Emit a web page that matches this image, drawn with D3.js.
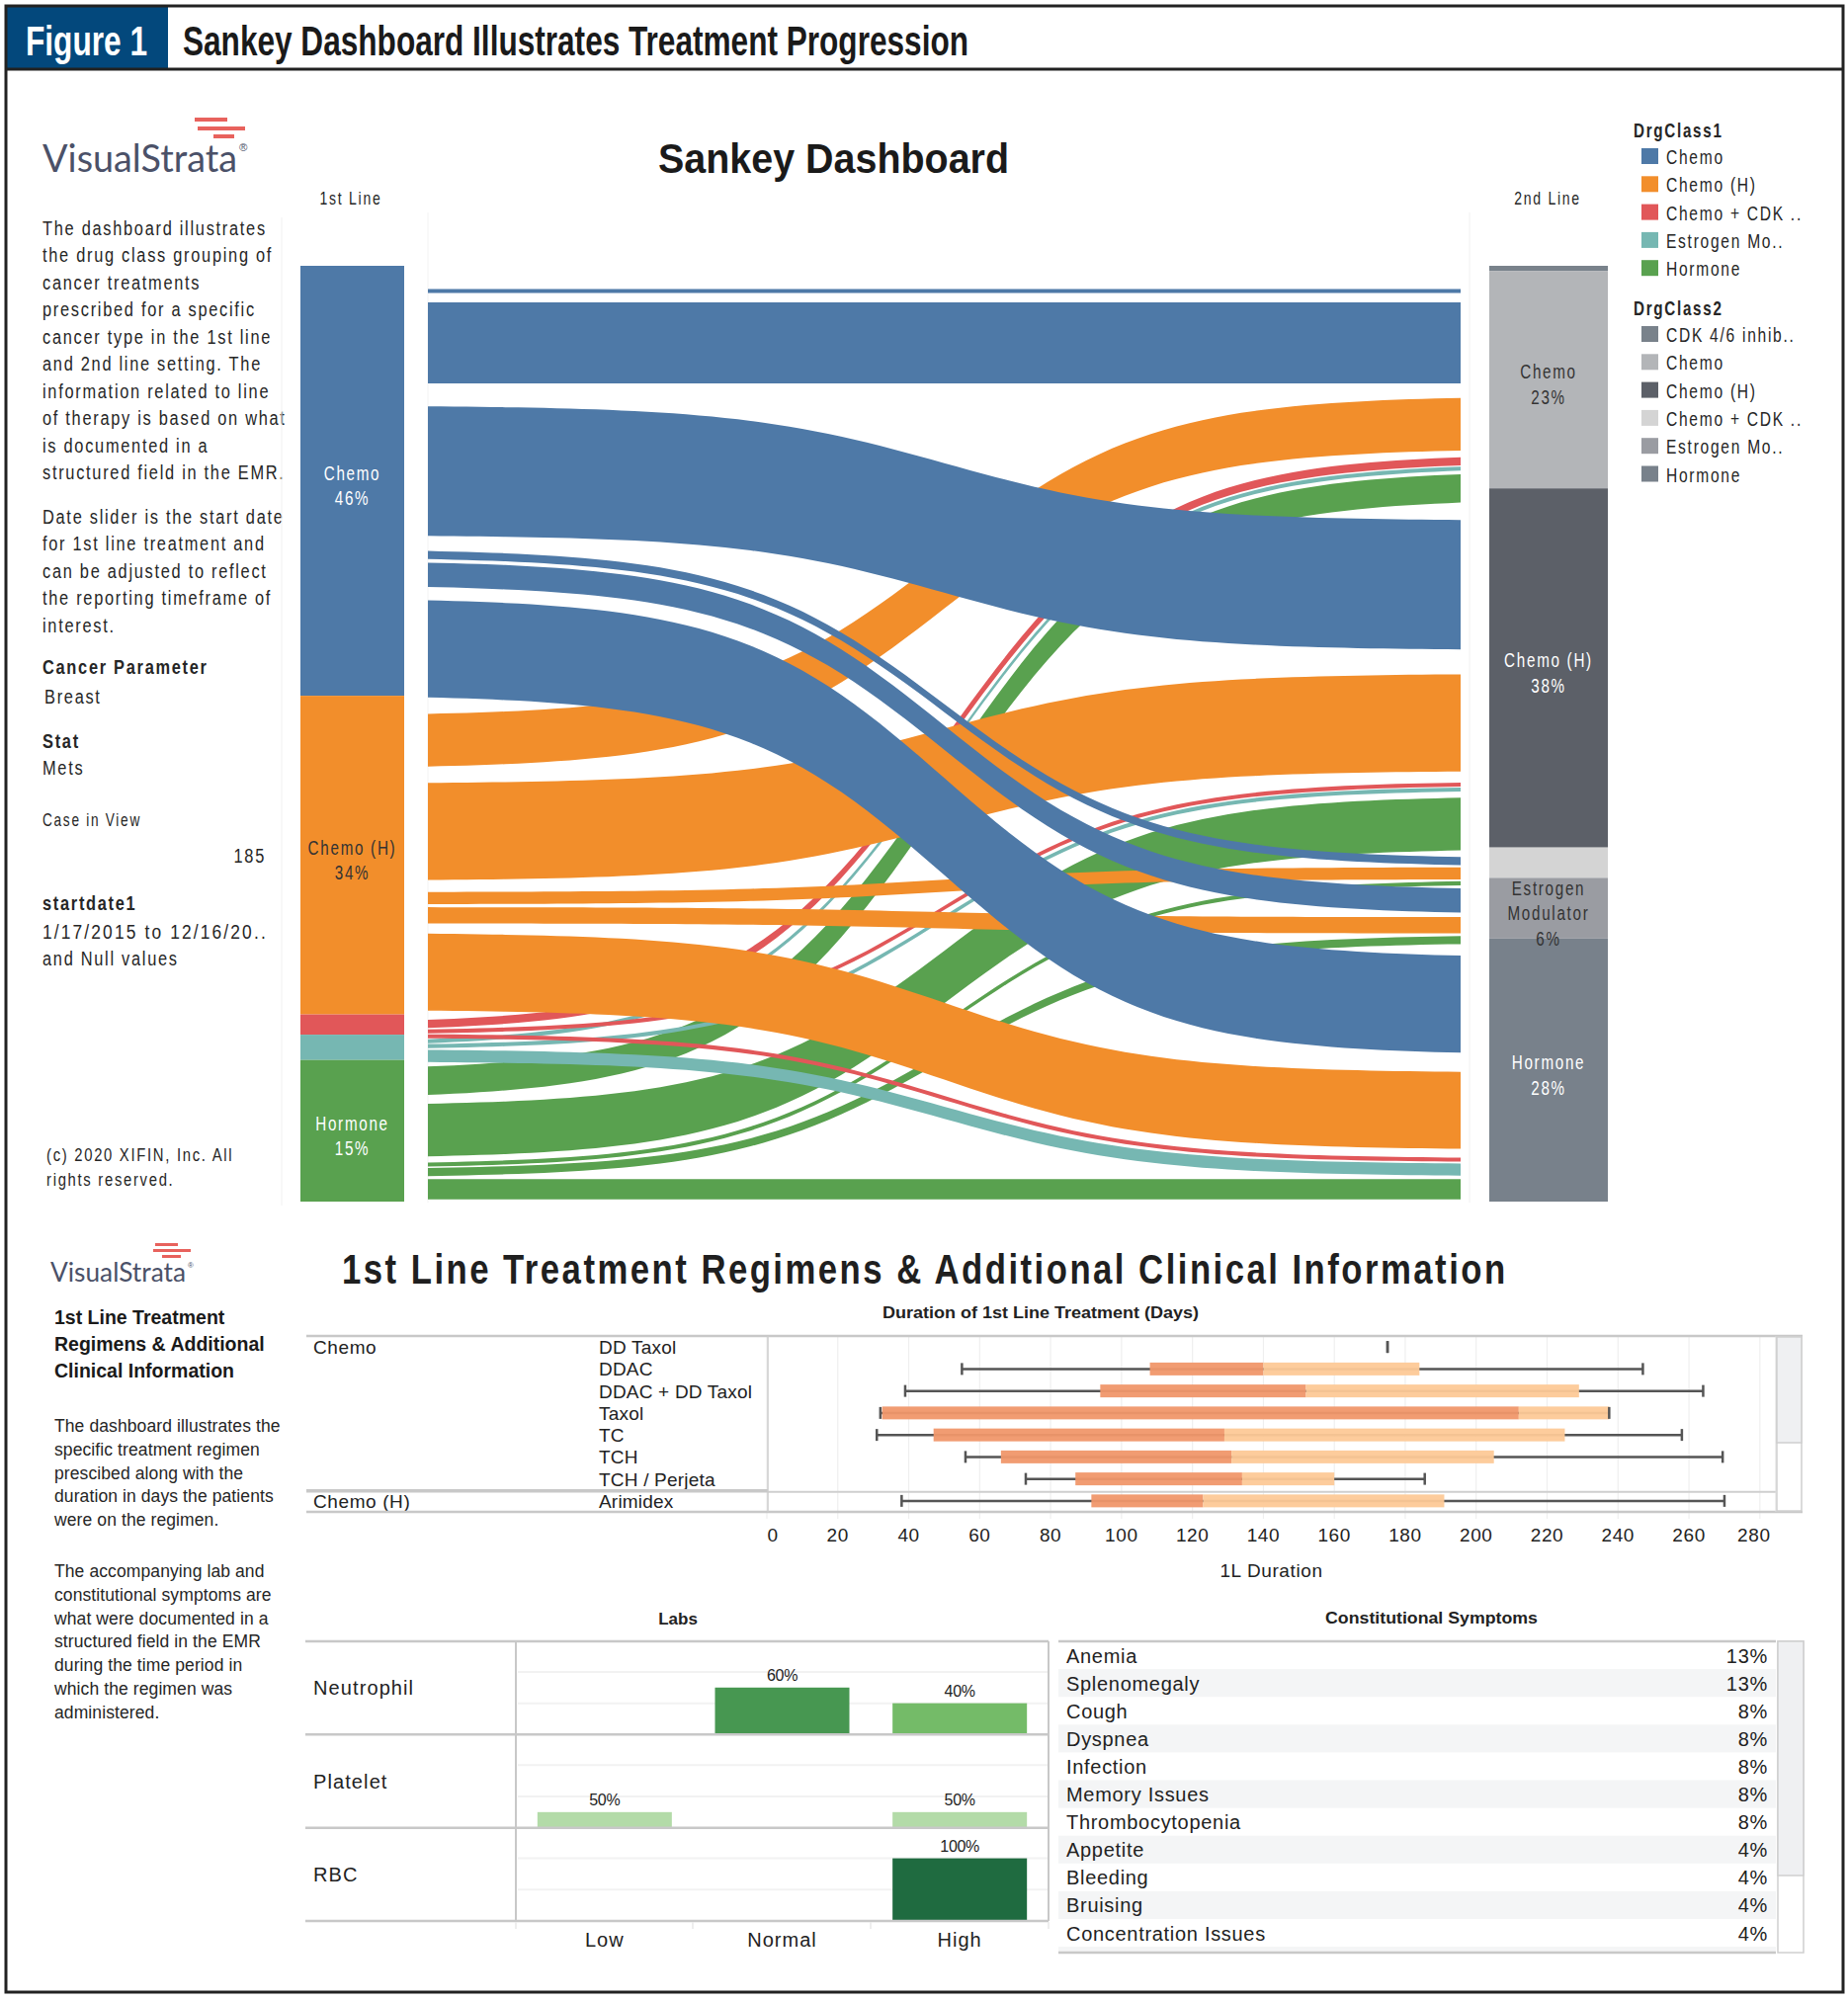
<!DOCTYPE html>
<html><head><meta charset="utf-8">
<script src="https://cdn.jsdelivr.net/npm/d3@7"></script>
<style>body{margin:0;background:#fff}svg{display:block}</style>
</head><body>
<svg id="c" width="1870" height="2026" xmlns="http://www.w3.org/2000/svg"></svg>
<script>
// ---------------- DATA ----------------
const firstLineClasses = ["Chemo", "Chemo (H)", "Chemo + CDK 4/6 inhibitor", "Estrogen Modulator", "Hormone"];
const secondLineClasses = ["CDK 4/6 inhibitor", "Chemo", "Chemo (H)", "Chemo + CDK 4/6 inhibitor", "Estrogen Modulator", "Hormone"];
// patients moving from each 1st-line class to each 2nd-line class (order of secondLineClasses)
const flowsFromChemo    = [1, 20, 32, 2, 6, 24];
const flowsFromChemoH   = [0, 13, 24, 3, 4, 19];
const flowsFromChemoCDK = [0, 2, 1, 0, 0, 1];
const flowsFromEstrogen = [0, 1, 1, 0, 0, 3];
const flowsFromHormone  = [0, 7, 13, 1, 2, 5];
const firstLineLabels  = [["Chemo"], ["Chemo (H)"], [], [], ["Hormone"]];
const secondLineLabels = [[], ["Chemo"], ["Chemo (H)"], [], ["Estrogen", "Modulator"], ["Hormone"]];
const class1Legend = ["Chemo", "Chemo (H)", "Chemo + CDK ..", "Estrogen Mo..", "Hormone"];
const class2Legend = ["CDK 4/6 inhib..", "Chemo", "Chemo (H)", "Chemo + CDK ..", "Estrogen Mo..", "Hormone"];
const class1Colors = ["#4e79a7", "#f28e2b", "#e15759", "#76b7b2", "#59a14f"];
const class2Colors = ["#79828b", "#b3b5b8", "#5c6068", "#d4d4d4", "#9a9ca2", "#78818b"];

const regimenClass = ["Chemo", "", "", "", "", "", "", "Chemo (H)"];
const regimens = ["DD Taxol", "DDAC", "DDAC + DD Taxol", "Taxol", "TC", "TCH", "TCH / Perjeta", "Arimidex"];
const durMin    = [175, 55, 39, 32, 31, 56, 73, 38];
const durQ1     = [175, 108, 94, 32.5, 47, 66, 87, 91.5];
const durMedian = [175, 140, 152, 212, 129, 131, 134, 123];
const durQ3     = [175, 184, 229, 237.5, 225, 205, 160, 191];
const durMax    = [175, 247, 264, 237.5, 258, 269.5, 185.5, 270];
const durationTicks = [0, 20, 40, 60, 80, 100, 120, 140, 160, 180, 200, 220, 240, 260, 280];

const labTests = ["Neutrophil", "Platelet", "RBC"];
const labLevels = ["Low", "Normal", "High"];
const labLow    = [0, 1, 0];
const labNormal = [3, 0, 0];
const labHigh   = [2, 1, 4];
const labCountColors = ["#b3dba8", "#74bb68", "#479751", "#1f6b40"];

const symptoms = ["Anemia", "Splenomegaly", "Cough", "Dyspnea", "Infection", "Memory Issues", "Thrombocytopenia", "Appetite", "Bleeding", "Bruising", "Concentration Issues"];
const symptomPct = [13, 13, 8, 8, 8, 8, 8, 4, 4, 4, 4];

// ---------------- HELPERS ----------------
const svg = d3.select("#c");
const FF = "'Liberation Sans', Arial, Helvetica, sans-serif";
function T(parent, x, y, s, o = {}) {
  const t = parent.append("text").text(s)
    .attr("font-family", o.ff || FF)
    .attr("font-size", o.fs || 17)
    .attr("font-weight", o.fw || 400)
    .attr("fill", o.fill || "#262626")
    .attr("text-anchor", o.anchor || "start");
  if (o.ls) t.attr("letter-spacing", o.ls);
  let sx = o.sx;
  if (o.fit) {
    t.attr("x", 0).attr("y", 0);
    const len = t.node().getComputedTextLength();
    if (len > 0) sx = o.fit / len;
  }
  if (sx) t.attr("x", 0).attr("y", 0).attr("transform", `translate(${x},${y}) scale(${sx},1)`);
  else t.attr("x", x).attr("y", y);
  if (o.tl) t.attr("textLength", o.tl).attr("lengthAdjust", "spacingAndGlyphs");
  return t;
}
function L(parent, x1, y1, x2, y2, c, w) {
  return parent.append("line").attr("x1", x1).attr("y1", y1).attr("x2", x2).attr("y2", y2)
    .attr("stroke", c).attr("stroke-width", w);
}
const SK = { fs: 21, ls: 2.2, sx: 0.78 };
function sk(extra) { return Object.assign({}, SK, extra || {}); }

// ---------------- FRAME / HEADER ----------------
svg.append("rect").attr("x", 0).attr("y", 0).attr("width", 1870).attr("height", 2026).attr("fill", "#fff");
svg.append("rect").attr("x", 6).attr("y", 6).attr("width", 164).attr("height", 64).attr("fill", "#03487c");
T(svg, 26, 56, "Figure 1", { fs: 42, fw: 700, fill: "#fff", tl: 123 });
T(svg, 185, 56, "Sankey Dashboard Illustrates Treatment Progression", { fs: 42, fw: 700, fill: "#1a1a1a", tl: 795 });
svg.append("rect").attr("x", 6).attr("y", 6).attr("width", 1859).attr("height", 2010)
  .attr("fill", "none").attr("stroke", "#222").attr("stroke-width", 3);
L(svg, 6, 70, 1865, 70, "#222", 3);

// ---------------- LOGOS ----------------
function logo(x, y, fs, tl, stripes) {
  const g = svg.append("g");
  T(g, x, y, "VisualStrata", { fs: fs, fw: 400, fill: "#4b5168", tl: tl, ff: "Lato, 'Liberation Sans', sans-serif" });
  T(g, x + tl + 2, y - fs * 0.55, "®", { fs: fs * 0.3, fill: "#4b5168" });
  stripes.forEach(s => g.append("rect").attr("x", s[0]).attr("y", s[1]).attr("width", s[2]).attr("height", s[3]).attr("fill", "#e8625d"));
}
logo(43, 174, 38, 197, [[197, 119, 33, 4], [200, 128, 48, 4], [216, 136, 21, 4]]);
logo(51, 1297, 26, 137, [[157, 1258, 23, 3], [155, 1264, 38, 3], [164, 1270, 19, 3]]);

// ---------------- SANKEY LEFT PANEL TEXT ----------------
const para1 = ["The dashboard illustrates", "the drug class grouping of", "cancer treatments", "prescribed for a specific",
  "cancer type in the 1st line", "and 2nd line setting. The", "information related to line", "of therapy is based on what",
  "is documented in a", "structured field in the EMR."];
para1.forEach((s, i) => T(svg, 43, 238 + i * 27.45, s, sk()));
const para2 = ["Date slider is the start date", "for 1st line treatment and", "can be adjusted to reflect", "the reporting timeframe of", "interest."];
para2.forEach((s, i) => T(svg, 43, 530 + i * 27.45, s, sk()));
T(svg, 43, 682, "Cancer Parameter", sk({ fw: 700 }));
T(svg, 45, 712, "Breast", sk());
T(svg, 43, 757, "Stat", sk({ fw: 700 }));
T(svg, 43, 784, "Mets", sk());
T(svg, 43, 836, "Case in View", sk({ fs: 17.5 }));
T(svg, 269, 873, "185", sk({ anchor: "end" }));
T(svg, 43, 921, "startdate1", sk({ fw: 700 }));
T(svg, 43, 950, "1/17/2015 to 12/16/20..", { fs: 21, ls: 2.6, fit: 228 });
T(svg, 43, 977, "and Null values", sk());
T(svg, 47, 1175, "(c) 2020 XIFIN, Inc. All", sk({ fs: 19 }));
T(svg, 47, 1200, "rights reserved.", sk({ fs: 19 }));

// faint panel separators
L(svg, 285, 220, 285, 1220, "#f0f0f0", 1);
L(svg, 433, 215, 433, 1217, "#f3f3f3", 1);
L(svg, 1487, 215, 1487, 1217, "#f0f0f0", 1);

// ---------------- SANKEY ----------------
T(svg, 666, 175, "Sankey Dashboard", { fs: 42, fw: 700, fill: "#1a1a1a", tl: 355 });
T(svg, 355, 207, "1st Line", sk({ fs: 18, anchor: "middle" }));
T(svg, 1566, 207, "2nd Line", sk({ fs: 18, anchor: "middle" }));

const flowMatrix = [flowsFromChemo, flowsFromChemoH, flowsFromChemoCDK, flowsFromEstrogen, flowsFromHormone];
const total = d3.sum(flowMatrix.flat());
const srcTotals = flowMatrix.map(r => d3.sum(r));
const tgtTotals = secondLineClasses.map((_, j) => d3.sum(flowMatrix, r => r[j]));
const yNode = d3.scaleLinear().domain([0, total]).range([269, 1216]);
const yLink = d3.scaleLinear().domain([0, total]).range([292, 1216]);
const xLinkL = 433, xLinkR = 1478;

// links
const links = [];
let cum = 0;
flowMatrix.forEach((row, i) => row.forEach((v, j) => { if (v > 0) links.push({ s: i, t: j, v: v, l0: cum }); cum += v; }));
cum = 0;
secondLineClasses.forEach((_, j) => flowMatrix.forEach((row, i) => {
  const v = row[j];
  if (v > 0) links.find(d => d.s === i && d.t === j).r0 = cum;
  cum += v;
}));
const K = 10, A0 = 1 / (1 + Math.exp(K / 2));
const sig = t => (1 / (1 + Math.exp(-K * (t - 0.5))) - A0) / (1 - 2 * A0);
function bandPath(d) {
  const th = (yLink(d.v) - yLink(0)) * 0.82;
  const cl = yLink(d.l0 + d.v / 2), cr = yLink(d.r0 + d.v / 2);
  const N = 80, pts = [];
  for (let i = 0; i <= N; i++) { const t = i / N; pts.push([xLinkL + (xLinkR - xLinkL) * t, (cl - th / 2) + (cr - cl) * sig(t)]); }
  for (let i = N; i >= 0; i--) { const t = i / N; pts.push([xLinkL + (xLinkR - xLinkL) * t, (cl + th / 2) + (cr - cl) * sig(t)]); }
  return d3.line()(pts) + "Z";
}
const drawOrder = links.slice().sort((a, b) => (b.s - a.s) || (a.t - b.t));
svg.append("g").selectAll("path").data(drawOrder).join("path")
  .attr("d", bandPath).attr("fill", d => class1Colors[d.s]);

// node bars
function nodeBars(totals, x0, x1, colors, labels, labelColors) {
  let c = 0;
  const segs = totals.map((v, i) => { const s = { i: i, v: v, y0: c }; c += v; return s; });
  const g = svg.append("g");
  g.selectAll("rect").data(segs).join("rect")
    .attr("x", x0).attr("width", x1 - x0)
    .attr("y", d => yNode(d.y0)).attr("height", d => yNode(d.y0 + d.v) - yNode(d.y0))
    .attr("fill", d => colors[d.i]);
  segs.forEach(d => {
    if (!labels[d.i].length) return;
    const lines = labels[d.i].concat([Math.round(d.v / total * 100) + "%"]);
    const mid = (yNode(d.y0) + yNode(d.y0 + d.v)) / 2;
    lines.forEach((s, k) => T(g, (x0 + x1) / 2, mid + (k - (lines.length - 1) / 2) * 25.5 + 12, s,
      sk({ fs: 19.5, anchor: "middle", fill: labelColors[d.i] })));
  });
}
nodeBars(srcTotals, 304, 409, class1Colors, firstLineLabels, ["#fff", "#333", "#fff", "#fff", "#fff"]);
nodeBars(tgtTotals, 1507, 1627, class2Colors, secondLineLabels, ["#fff", "#333", "#fff", "#333", "#333", "#fff"]);

// legends
function legend(title, items, colors, y0) {
  const g = svg.append("g");
  T(g, 1653, y0, title, sk({ fw: 700, fs: 19.5 }));
  items.forEach((s, i) => {
    const by = y0 + 27 + i * 28.3;
    g.append("rect").attr("x", 1661).attr("y", by - 16).attr("width", 17).attr("height", 16).attr("fill", colors[i]);
    T(g, 1686, by, s, sk({ fs: 20 }));
  });
}
legend("DrgClass1", class1Legend, class1Colors, 139);
legend("DrgClass2", class2Legend, class2Colors, 319);

// ---------------- BOTTOM LEFT TEXT ----------------
["1st Line Treatment", "Regimens & Additional", "Clinical Information"].forEach((s, i) =>
  T(svg, 55, 1340 + i * 27.2, s, { fs: 19.5, fw: 700, fill: "#1a1a1a" }));
["The dashboard illustrates the", "specific treatment regimen", "prescibed along with the", "duration in days the patients", "were on the regimen."]
  .forEach((s, i) => T(svg, 55, 1449 + i * 23.75, s, { fs: 17.5, ls: 0.1 }));
["The accompanying lab and", "constitutional symptoms are", "what were documented in a", "structured field in the EMR", "during the time period in", "which the regimen was", "administered."]
  .forEach((s, i) => T(svg, 55, 1596 + i * 23.75, s, { fs: 17.5, ls: 0.1 }));

T(svg, 346, 1299, "1st Line Treatment Regimens & Additional Clinical Information", { fs: 42, fw: 700, fill: "#1f1f1f", ls: 3, fit: 1180 });

// ---------------- BOX PLOT ----------------
T(svg, 893, 1334, "Duration of 1st Line Treatment (Days)", { fs: 17, fw: 700, fill: "#222", tl: 320 });
const xDur = d3.scaleLinear().domain([0, 284.5]).range([776, 1797]);
const yReg = d3.scaleBand().domain(regimens).range([1352, 1530]);
const bp = svg.append("g");
// gridlines
bp.selectAll("line.grid").data(durationTicks).join("line").attr("class", "grid")
  .attr("x1", d => xDur(d)).attr("x2", d => xDur(d)).attr("y1", 1352).attr("y2", 1537)
  .attr("stroke", "#efefef").attr("stroke-width", 1.2);
// boxes
const bw = yReg.bandwidth();
regimens.forEach((r, i) => {
  const cy = yReg(r) + bw / 2;
  L(bp, xDur(durMin[i]), cy, xDur(durMax[i]), cy, "#555", 2.5);
  bp.append("rect").attr("x", xDur(durQ1[i])).attr("width", xDur(durMedian[i]) - xDur(durQ1[i]))
    .attr("y", cy - 6.5).attr("height", 13).attr("fill", "#f0976a").attr("opacity", 0.95);
  bp.append("rect").attr("x", xDur(durMedian[i])).attr("width", xDur(durQ3[i]) - xDur(durMedian[i]))
    .attr("y", cy - 6.5).attr("height", 13).attr("fill", "#fdc997").attr("opacity", 0.95);
  L(bp, xDur(durMin[i]), cy - 6, xDur(durMin[i]), cy + 6, "#555", 2.5);
  L(bp, xDur(durMax[i]), cy - 6, xDur(durMax[i]), cy + 6, "#555", 2.5);
  T(bp, 606, cy + 7, r, { fs: 19, ls: 0.2, fill: "#222" });
  if (regimenClass[i]) T(bp, 317, cy + 7, regimenClass[i], { fs: 19, ls: 0.6, fill: "#222" });
});
// table lines
L(bp, 310, 1352, 1824, 1352, "#c8c8c8", 2.5);
L(bp, 310, yReg("Arimidex") + 1, 777, yReg("Arimidex") + 1, "#c8c8c8", 3.5);
L(bp, 777, yReg("Arimidex") + 2, 1797, yReg("Arimidex") + 2, "#cfcfcf", 2);
L(bp, 310, 1530, 1824, 1530, "#c8c8c8", 2.5);
L(bp, 777, 1352, 777, 1530, "#cccccc", 1.5);
L(bp, 1797, 1352, 1797, 1530, "#dddddd", 1);
bp.append("rect").attr("x", 1798).attr("y", 1353).attr("width", 25).attr("height", 176).attr("fill", "#fff").attr("stroke", "#cfcfcf").attr("stroke-width", 1.5);
bp.append("rect").attr("x", 1798).attr("y", 1353).attr("width", 25).attr("height", 107).attr("fill", "#eff0f2").attr("stroke", "#cfcfcf").attr("stroke-width", 1.5);
// axis labels
durationTicks.forEach(d => {
  let x = xDur(d);
  if (d === 0) x += 6; if (d === 280) x -= 6;
  T(bp, x, 1560, String(d), { fs: 19, ls: 0.6, anchor: "middle", fill: "#222" });
});
T(bp, (776 + 1797) / 2, 1596, "1L Duration", { fs: 19, ls: 0.6, anchor: "middle", fill: "#222" });

// ---------------- LABS ----------------
const lb = svg.append("g");
T(lb, 686, 1644, "Labs", { fs: 17, fw: 700, anchor: "middle", fill: "#222" });
const xLab = d3.scaleBand().domain(labLevels).range([522, 1061]).paddingInner(0.243).paddingOuter(0.1215);
const yLab = d3.scaleBand().domain(labTests).range([1661, 1944]);
const yCount = d3.scaleLinear().domain([0, 6]).range([0, 95.1]);
const labColor = d3.scaleLinear().domain([1, 2, 3, 4]).range(labCountColors);
const labCounts = labTests.map((_, i) => [labLow[i], labNormal[i], labHigh[i]]);
labTests.forEach((tname, i) => {
  const top = yLab(tname), bot = top + yLab.bandwidth();
  [2, 4].forEach(c => L(lb, 524, bot - yCount(c), 1060, bot - yCount(c), "#f2f2f2", 2));
  const rowTotal = d3.sum(labCounts[i]);
  labLevels.forEach((lv, j) => {
    const c = labCounts[i][j];
    if (!c) return;
    lb.append("rect").attr("x", xLab(lv)).attr("width", xLab.bandwidth())
      .attr("y", bot - yCount(c)).attr("height", yCount(c)).attr("fill", labColor(c));
    T(lb, xLab(lv) + xLab.bandwidth() / 2, bot - yCount(c) - 7, Math.round(c / rowTotal * 100) + "%",
      { fs: 16, anchor: "middle", fill: "#222", ls: -0.3 });
  });
  T(lb, 317, top + yLab.bandwidth() / 2 + 7, tname, { fs: 20, ls: 1.1, fill: "#222" });
});
yLab.domain().forEach(t => L(lb, 309, yLab(t), 1061, yLab(t), "#c8c8c8", 2.5));
L(lb, 309, 1944, 1061, 1944, "#c8c8c8", 2.5);
L(lb, 522, 1661, 522, 1944, "#c8c8c8", 2);
L(lb, 1061, 1661, 1061, 1944, "#c8c8c8", 2);
[522, 701, 881, 1061].forEach(x => L(lb, x, 1945, x, 1952, "#e8e8e8", 1.5));
labLevels.forEach(lv => T(lb, xLab(lv) + xLab.bandwidth() / 2, 1970, lv, { fs: 20, ls: 1, anchor: "middle", fill: "#222" }));

// ---------------- SYMPTOMS ----------------
const sy = svg.append("g");
T(sy, 1341, 1643, "Constitutional Symptoms", { fs: 17, fw: 700, fill: "#222", tl: 215 });
const ySym = d3.scaleBand().domain(symptoms).range([1661, 1661 + symptoms.length * 28.1]);
symptoms.forEach((s, i) => {
  const y = ySym(s);
  if (i % 2 === 1) sy.append("rect").attr("x", 1071).attr("y", y).attr("width", 726).attr("height", ySym.bandwidth()).attr("fill", "#f4f5f6");
  T(sy, 1079, y + ySym.bandwidth() / 2 + 7.5, s, { fs: 20, ls: 0.7, fill: "#222" });
  T(sy, 1789, y + ySym.bandwidth() / 2 + 7.5, symptomPct[i] + "%", { fs: 20, ls: 0.7, anchor: "end", fill: "#222" });
});
sy.append("rect").attr("x", 1071).attr("y", 1661 + symptoms.length * 28.1).attr("width", 726).attr("height", 5).attr("fill", "#f4f5f6");
L(sy, 1071, 1661, 1797, 1661, "#c8c8c8", 2.5);
L(sy, 1071, 1976, 1797, 1976, "#c8c8c8", 2.5);
sy.append("rect").attr("x", 1799).attr("y", 1661).attr("width", 26).attr("height", 315).attr("fill", "#fff").attr("stroke", "#cfcfcf").attr("stroke-width", 1.5);
sy.append("rect").attr("x", 1799).attr("y", 1661).attr("width", 26).attr("height", 237).attr("fill", "#eff0f2").attr("stroke", "#cfcfcf").attr("stroke-width", 1.5);
</script>
</body></html>
